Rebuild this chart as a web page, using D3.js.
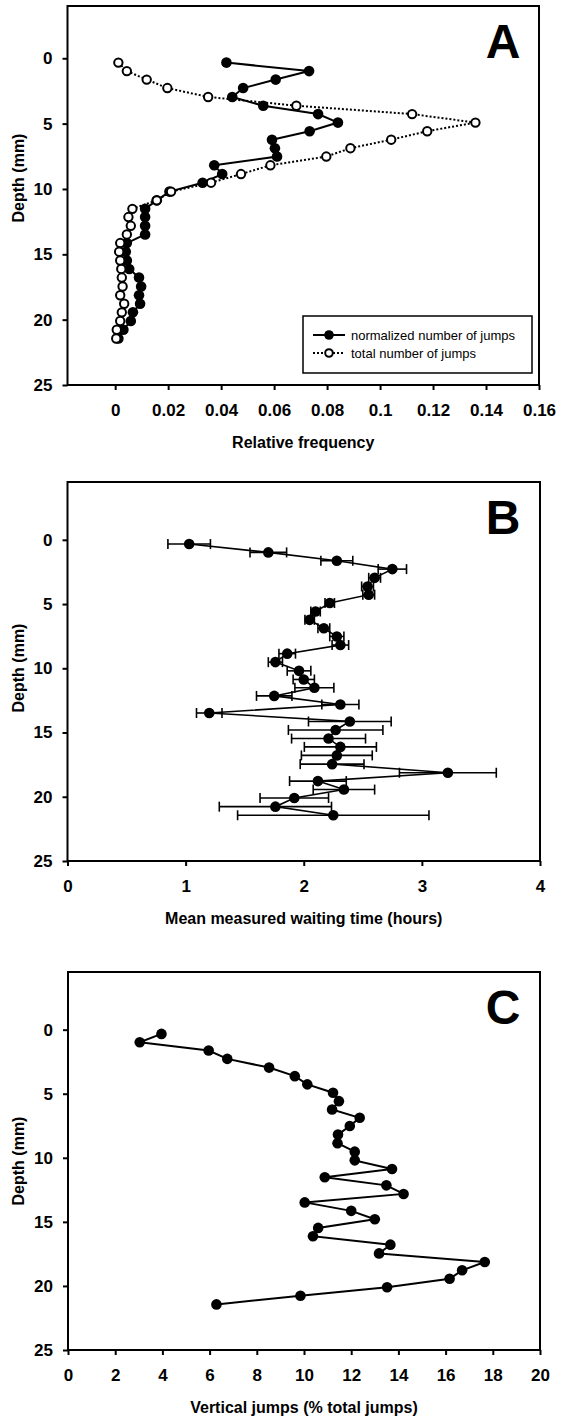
<!DOCTYPE html>
<html><head><meta charset="utf-8">
<script src="https://cdn.jsdelivr.net/npm/d3@7"></script>
<style>
body{margin:0;background:#fff;}
svg{display:block;font-family:"Liberation Sans",Arial,sans-serif;}
</style></head>
<body><svg id="c" width="562" height="1420"></svg>
<script>
// ---------- data ----------
const depth = [0.33, 0.98, 1.63, 2.28, 2.96, 3.63, 4.27, 4.92, 5.58, 6.23, 6.88, 7.52, 8.19, 8.86, 9.52, 10.2, 10.87, 11.52, 12.15, 12.82, 13.48, 14.14, 14.8, 15.47, 16.12, 16.78, 17.46, 18.13, 18.78, 19.44, 20.1, 20.77, 21.44];
const normalizedJumps = [0.042, 0.0732, 0.0606, 0.0483, 0.0442, 0.0559, 0.0766, 0.0841, 0.0734, 0.0592, 0.0603, 0.0611, 0.0374, 0.0404, 0.033, 0.0205, 0.0157, 0.0113, 0.0113, 0.0113, 0.0113, 0.0044, 0.004, 0.0044, 0.0053, 0.009, 0.0098, 0.009, 0.0094, 0.0067, 0.0059, 0.0031, 0.0012];
const totalJumps = [0.0012, 0.0044, 0.0119, 0.0197, 0.0351, 0.0684, 0.1121, 0.136, 0.1178, 0.1042, 0.0888, 0.0797, 0.0586, 0.0475, 0.0362, 0.0211, 0.0157, 0.0065, 0.005, 0.0059, 0.0044, 0.0019, 0.0015, 0.0019, 0.0023, 0.0025, 0.0028, 0.0019, 0.0034, 0.0025, 0.0019, 0.0006, 0.0004];
const waitTime = [1.03, 1.70, 2.28, 2.75, 2.60, 2.54, 2.55, 2.22, 2.10, 2.05, 2.17, 2.28, 2.31, 1.86, 1.76, 1.96, 2.00, 2.09, 1.75, 2.31, 1.20, 2.39, 2.27, 2.21, 2.31, 2.28, 2.24, 3.22, 2.12, 2.34, 1.92, 1.76, 2.25];
const waitErr = [0.18, 0.155, 0.135, 0.12, 0.05, 0.05, 0.05, 0.04, 0.04, 0.04, 0.05, 0.06, 0.07, 0.07, 0.06, 0.1, 0.09, 0.165, 0.15, 0.157, 0.108, 0.35, 0.4, 0.313, 0.305, 0.3, 0.27, 0.41, 0.24, 0.26, 0.29, 0.475, 0.81];
const verticalJumps = [3.96, 3.04, 5.96, 6.75, 8.52, 9.61, 10.14, 11.23, 11.48, 11.19, 12.36, 11.94, 11.44, 11.42, 12.15, 12.15, 13.73, 10.88, 13.49, 14.22, 10.03, 12.0, 13.0, 10.6, 10.38, 13.66, 13.18, 17.66, 16.7, 16.17, 13.52, 9.85, 6.29];
const depthTicks = [0, 5, 10, 15, 20, 25];
const ticksA = [0, 0.02, 0.04, 0.06, 0.08, 0.1, 0.12, 0.14, 0.16];
const tickLabelsA = ["0", "0.02", "0.04", "0.06", "0.08", "0.1", "0.12", "0.14", "0.16"];
const ticksB = [0, 1, 2, 3, 4];
const ticksC = [0, 2, 4, 6, 8, 10, 12, 14, 16, 18, 20];
const legendLabels = ["normalized number of jumps", "total number of jumps"];

const svg = d3.select("#c");
svg.append("rect").attr("width",562).attr("height",1420).attr("fill","#fff");

function panel(opt){
  const g = svg.append("g");
  const x = d3.scaleLinear().domain(opt.xDomain).range([opt.left, opt.right]);
  const y = d3.scaleLinear().domain(opt.yDomain).range([opt.top, opt.bottom]);
  // axes
  const xa = g.append("g").attr("transform",`translate(0,${opt.bottom})`)
    .call(d3.axisBottom(x).tickValues(opt.xTicks).tickSize(5).tickPadding(14)
      .tickFormat((d,i)=>opt.xLabels ? opt.xLabels[i] : String(d)));
  const ya = g.append("g").attr("transform",`translate(${opt.left},0)`)
    .call(d3.axisLeft(y).tickValues(depthTicks).tickSize(5).tickPadding(10));
  [xa,ya].forEach(a=>{
    a.select(".domain").remove();
    a.selectAll(".tick line").attr("stroke","#000").attr("stroke-width",2);
    a.selectAll(".tick text").attr("fill","#000").attr("font-size",17).attr("font-weight","bold")
      .attr("font-family","'Liberation Sans',Arial,sans-serif");
  });
  // frame
  g.append("rect").attr("x",opt.left).attr("y",opt.top)
    .attr("width",opt.right-opt.left).attr("height",opt.bottom-opt.top)
    .attr("fill","none").attr("stroke","#000").attr("stroke-width",2);
  // titles
  g.append("text").attr("x",(opt.left+opt.right)/2).attr("y",opt.bottom+63)
    .attr("text-anchor","middle").attr("font-size",16).attr("font-weight","bold").text(opt.xTitle);
  g.append("text").attr("transform",`translate(24,${opt.yTitleY}) rotate(-90)`)
    .attr("text-anchor","middle").attr("font-size",16).attr("font-weight","bold").text("Depth (mm)");
  g.append("text").attr("x",503).attr("y",opt.top+52).attr("text-anchor","middle")
    .attr("font-size",48).attr("font-weight","bold").text(opt.letter);
  return {g,x,y};
}

// ---------- Panel A ----------
const A = panel({left:67.5,right:539,top:6,bottom:385,xDomain:[-0.018,0.16],yDomain:[-4,25],
  xTicks:ticksA,xLabels:tickLabelsA,xTitle:"Relative frequency",yTitleY:178,letter:"A"});
const lineA1 = d3.line().x(d=>A.x(d[0])).y(d=>A.y(d[1]));
const dataA1 = normalizedJumps.map((v,i)=>[v,depth[i]]);
const dataA2 = totalJumps.map((v,i)=>[v,depth[i]]);
A.g.append("path").attr("d",lineA1(dataA1)).attr("fill","none").attr("stroke","#000").attr("stroke-width",2);
A.g.selectAll(".fa").data(dataA1).join("circle").attr("cx",d=>A.x(d[0])).attr("cy",d=>A.y(d[1])).attr("r",5.3).attr("fill","#000");
A.g.append("path").attr("d",lineA1(dataA2)).attr("fill","none").attr("stroke","#000").attr("stroke-width",2).attr("stroke-dasharray","2,2");
A.g.selectAll(".oa").data(dataA2).join("circle").attr("cx",d=>A.x(d[0])).attr("cy",d=>A.y(d[1])).attr("r",4.2)
  .attr("fill","#fff").attr("stroke","#000").attr("stroke-width",2);
// legend
const lg = A.g.append("g");
lg.append("rect").attr("x",303).attr("y",316).attr("width",229).attr("height",57).attr("fill","#fff").attr("stroke","#000").attr("stroke-width",1.5);
[335,353].forEach((yy,i)=>{
  lg.append("line").attr("x1",313).attr("x2",345).attr("y1",yy).attr("y2",yy).attr("stroke","#000").attr("stroke-width",2)
    .attr("stroke-dasharray",i?"2,2":null);
  lg.append("circle").attr("cx",329).attr("cy",yy).attr("r",i?3.8:4.8).attr("fill",i?"#fff":"#000").attr("stroke","#000").attr("stroke-width",i?2:0);
  lg.append("text").attr("x",351).attr("y",yy+4.5).attr("font-size",13).text(legendLabels[i]);
});

// ---------- Panel B ----------
const B = panel({left:67.5,right:540,top:482,bottom:861,xDomain:[0,4],yDomain:[-4.5,25],
  xTicks:ticksB,xTitle:"Mean measured waiting time (hours)",yTitleY:668,letter:"B"});
const dataB = waitTime.map((v,i)=>({v,d:depth[i],e:waitErr[i]}));
const eb = B.g.append("g").attr("stroke","#000").attr("stroke-width",1.6);
dataB.forEach(p=>{
  const yy=B.y(p.d), x1=B.x(p.v-p.e), x2=B.x(p.v+p.e);
  eb.append("line").attr("x1",x1).attr("x2",x2).attr("y1",yy).attr("y2",yy);
  eb.append("line").attr("x1",x1).attr("x2",x1).attr("y1",yy-5).attr("y2",yy+5);
  eb.append("line").attr("x1",x2).attr("x2",x2).attr("y1",yy-5).attr("y2",yy+5);
});
B.g.append("path").attr("d",d3.line().x(p=>B.x(p.v)).y(p=>B.y(p.d))(dataB)).attr("fill","none").attr("stroke","#000").attr("stroke-width",1.6);
B.g.selectAll(".fb").data(dataB).join("circle").attr("cx",p=>B.x(p.v)).attr("cy",p=>B.y(p.d)).attr("r",5.3).attr("fill","#000");

// ---------- Panel C ----------
const C = panel({left:68,right:540,top:972,bottom:1350,xDomain:[0,20],yDomain:[-4.5,25],
  xTicks:ticksC,xTitle:"Vertical jumps (% total jumps)",yTitleY:1161,letter:"C"});
const dataC = verticalJumps.map((v,i)=>[v,depth[i]]);
C.g.append("path").attr("d",d3.line().x(d=>C.x(d[0])).y(d=>C.y(d[1]))(dataC)).attr("fill","none").attr("stroke","#000").attr("stroke-width",2);
C.g.selectAll(".fc").data(dataC).join("circle").attr("cx",d=>C.x(d[0])).attr("cy",d=>C.y(d[1])).attr("r",5.3).attr("fill","#000");
</script></body></html>
